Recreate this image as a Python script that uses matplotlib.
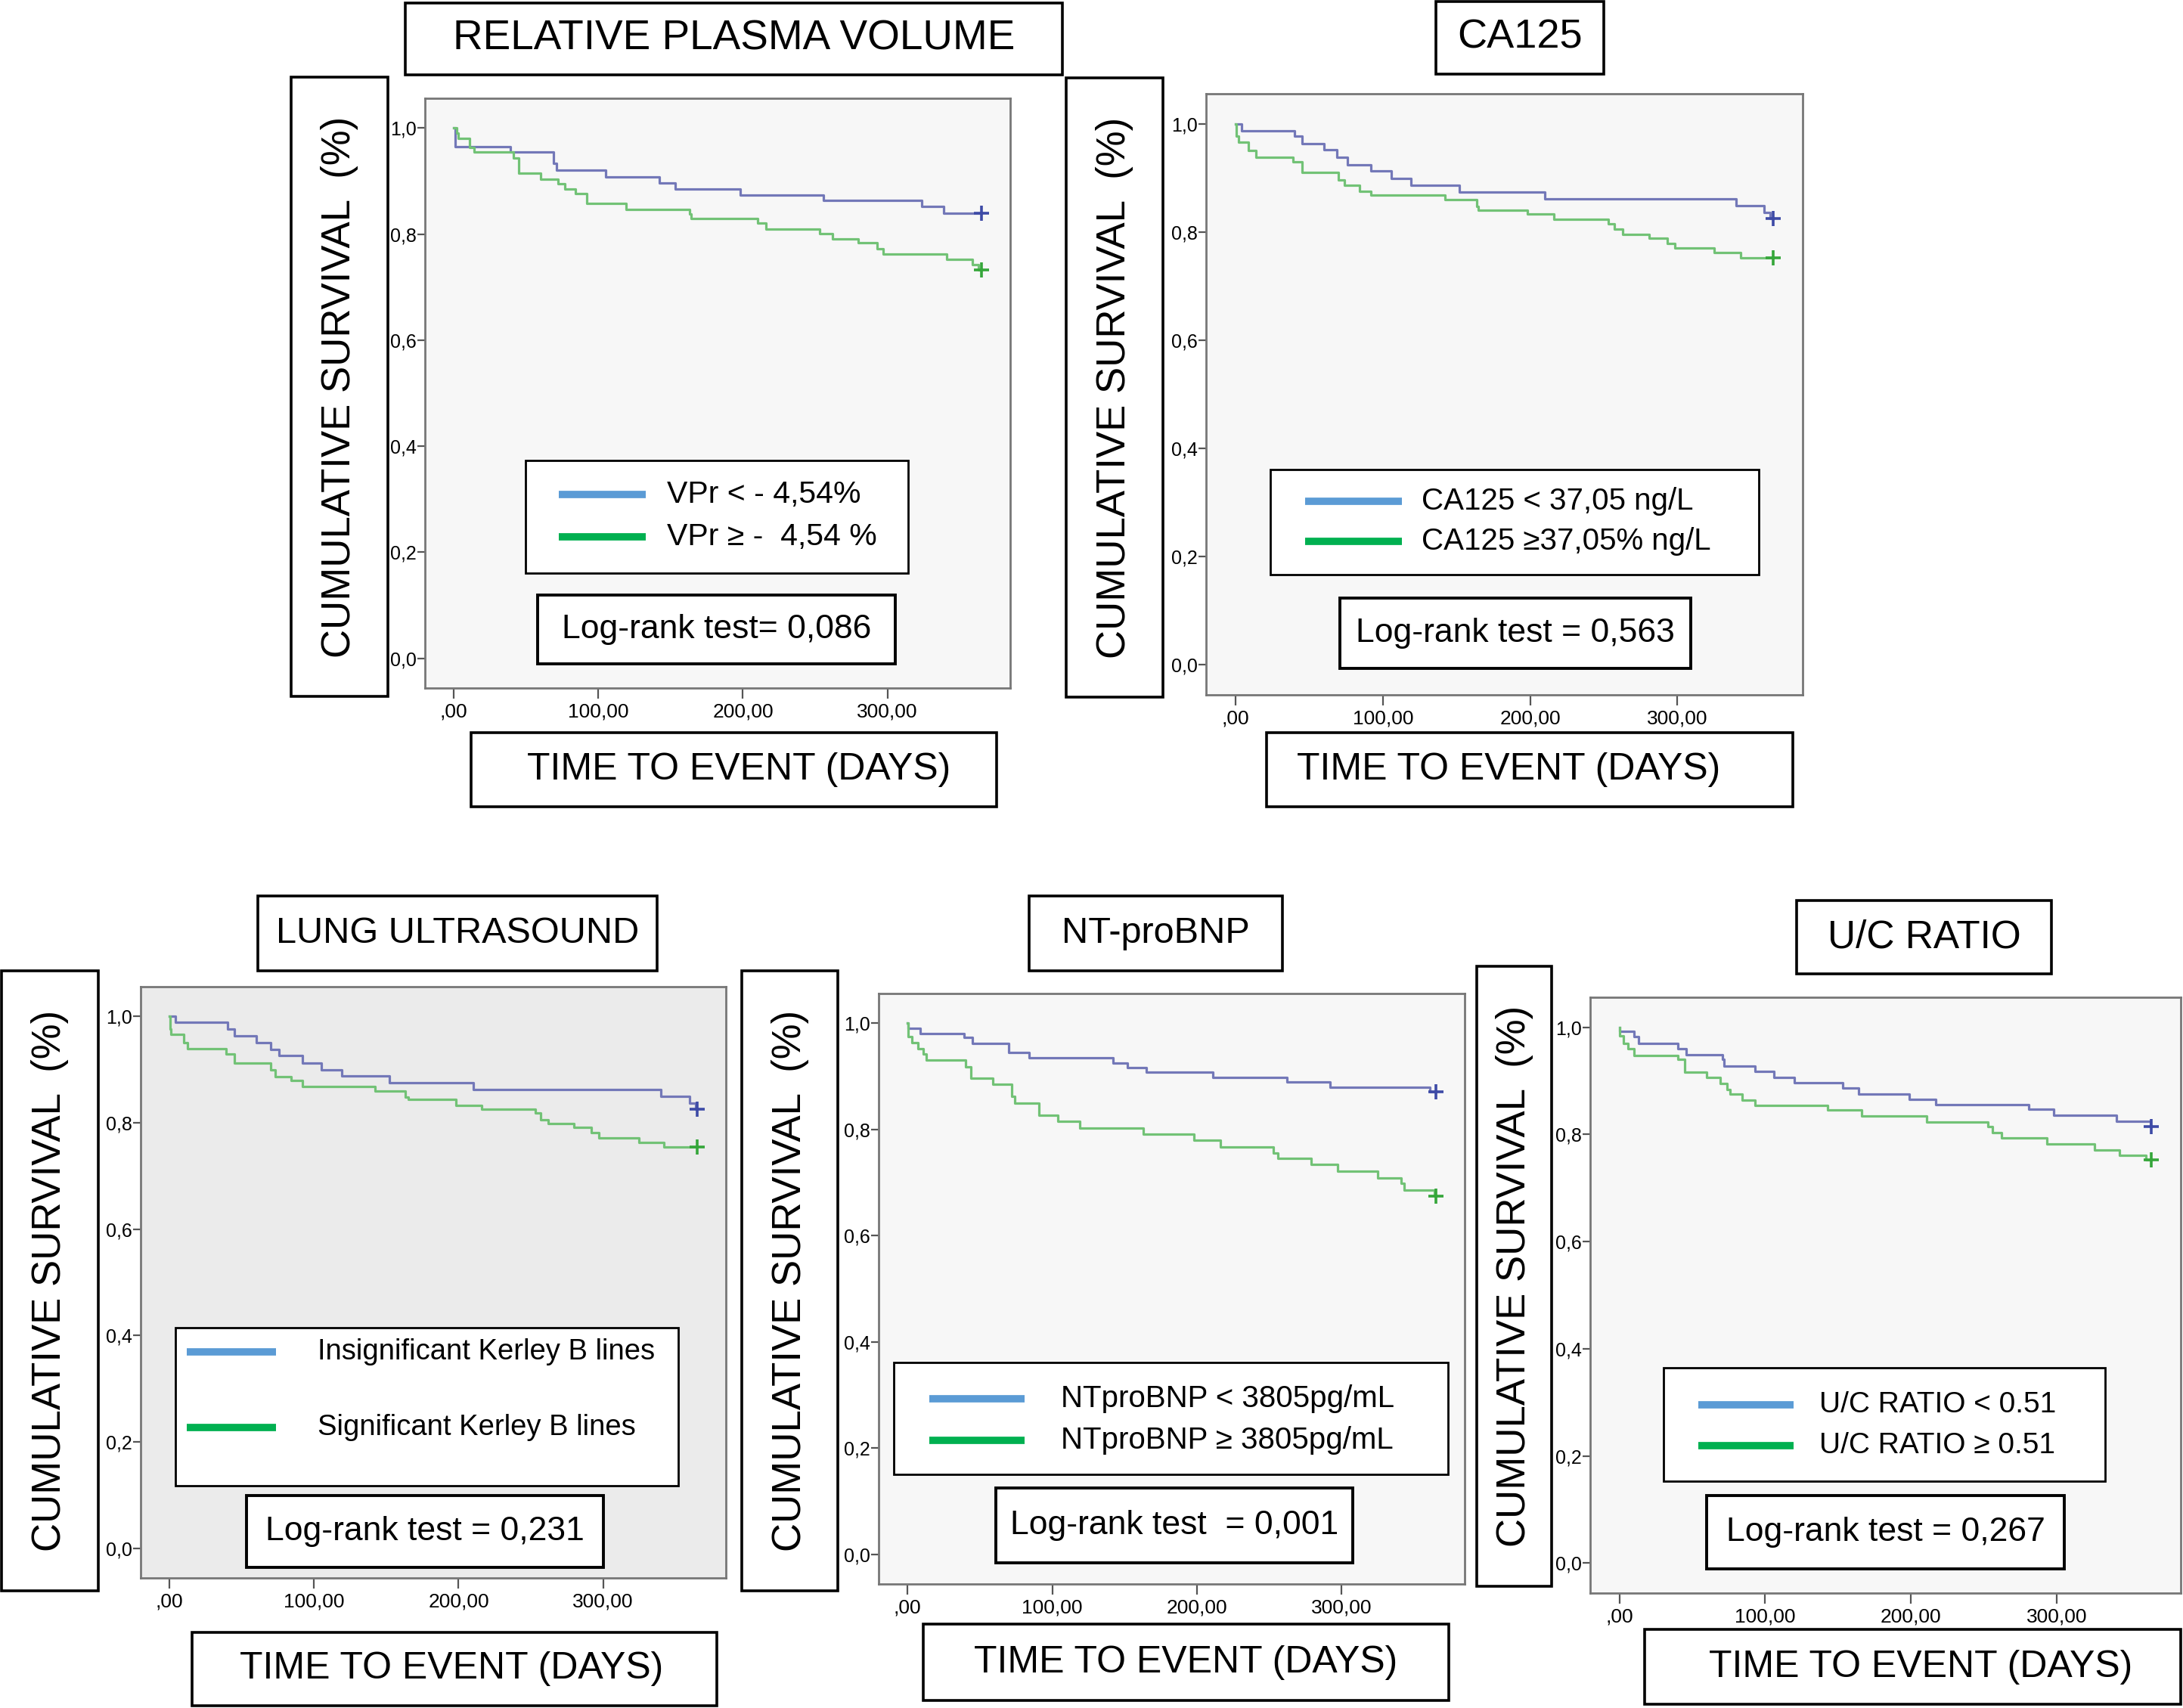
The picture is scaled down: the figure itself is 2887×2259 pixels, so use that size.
import matplotlib
matplotlib.use("Agg")
import matplotlib.pyplot as plt
from matplotlib.patches import Rectangle
from matplotlib.lines import Line2D

plt.rcParams['font.family'] = ['Liberation Sans', 'DejaVu Sans']

# ---- data (event day, survival after event) ----
END_DAY = 365

rpv_lo_t = [1, 39, 69, 71, 105, 142, 153, 198, 256, 324, 339]
rpv_lo_s = [0.965, 0.955, 0.933, 0.920, 0.908, 0.897, 0.885, 0.874, 0.863, 0.852, 0.840]
rpv_hi_t = [2, 3, 11, 14, 41, 45, 60, 72, 77, 84, 92, 119, 163, 164, 210, 216, 253, 262,
            280, 293, 297, 341, 359, 363]
rpv_hi_s = [0.990, 0.981, 0.964, 0.955, 0.944, 0.915, 0.904, 0.895, 0.885, 0.877, 0.858,
            0.847, 0.838, 0.829, 0.821, 0.810, 0.801, 0.791, 0.783, 0.773, 0.762, 0.753,
            0.742, 0.732]

ca_lo_t = [4, 40, 45, 60, 69, 76, 92, 106, 119, 152, 210, 340, 359, 363]
ca_lo_s = [0.988, 0.977, 0.964, 0.952, 0.939, 0.925, 0.913, 0.899, 0.887, 0.874, 0.861,
           0.849, 0.836, 0.825]
ca_hi_t = [0.5, 2, 9, 14, 39, 45, 70, 74, 84, 92, 142, 164, 165, 198, 216, 253, 257, 263,
           281, 293, 298, 325, 343]
ca_hi_s = [0.977, 0.966, 0.951, 0.938, 0.930, 0.911, 0.897, 0.887, 0.876, 0.869, 0.860,
           0.847, 0.841, 0.833, 0.824, 0.815, 0.806, 0.796, 0.789, 0.779, 0.770, 0.762,
           0.753]

lus_lo_t = [4, 40, 45, 60, 70, 76, 92, 105, 119, 152, 210, 340, 360, 364]
lus_lo_s = [0.989, 0.976, 0.964, 0.951, 0.938, 0.926, 0.913, 0.900, 0.888, 0.876, 0.863,
            0.850, 0.837, 0.825]
lus_hi_t = [0.3, 1, 10, 12.5, 39, 45, 70, 73, 84, 92, 142, 163, 165, 198, 216, 253, 257,
            262, 280, 292, 297, 325, 342]
lus_hi_s = [0.977, 0.966, 0.951, 0.939, 0.930, 0.913, 0.899, 0.887, 0.879, 0.869, 0.860,
            0.849, 0.844, 0.833, 0.825, 0.818, 0.806, 0.799, 0.791, 0.782, 0.772, 0.763,
            0.754]

nt_lo_t = [0.5, 9, 39, 45, 70, 84, 142, 152, 165, 211, 262, 292, 361]
nt_lo_s = [0.991, 0.981, 0.973, 0.962, 0.945, 0.935, 0.925, 0.917, 0.908, 0.898, 0.889,
           0.879, 0.871]
nt_hi_t = [0.5, 3, 7, 11, 13, 40, 44, 59, 72, 74, 91, 104, 119, 163, 198, 216, 253, 256,
           279, 297, 325, 341, 343, 364]
nt_hi_s = [0.975, 0.963, 0.952, 0.942, 0.930, 0.918, 0.897, 0.885, 0.863, 0.850, 0.827,
           0.815, 0.802, 0.791, 0.780, 0.767, 0.756, 0.745, 0.734, 0.721, 0.709, 0.698,
           0.686, 0.675]

uc_lo_t = [0.4, 10, 13, 40, 46, 71, 72, 93, 106, 120, 153, 164, 199, 217, 281, 298, 341, 364]
uc_lo_s = [0.992, 0.982, 0.970, 0.960, 0.949, 0.940, 0.928, 0.918, 0.907, 0.897, 0.887,
           0.876, 0.866, 0.856, 0.847, 0.836, 0.824, 0.815]
uc_hi_t = [0.4, 3, 6, 10, 40, 45, 60, 69, 74, 76, 84, 93, 143, 166, 211, 253, 256, 262, 293,
           326, 343, 361]
uc_hi_s = [0.984, 0.970, 0.960, 0.948, 0.940, 0.916, 0.906, 0.895, 0.884, 0.875, 0.864,
           0.854, 0.846, 0.834, 0.823, 0.814, 0.803, 0.793, 0.782, 0.771, 0.761, 0.752]

x_ticks = [0, 100, 200, 300]
x_tick_labels = [',00', '100,00', '200,00', '300,00']
y_ticks = [0.0, 0.2, 0.4, 0.6, 0.8, 1.0]
y_tick_labels = ['0,0', '0,2', '0,4', '0,6', '0,8', '1,0']

titles = ['RELATIVE PLASMA VOLUME', 'CA125', 'LUNG ULTRASOUND', 'NT-proBNP', 'U/C RATIO']
legend_labels = [
    ['VPr < - 4,54%', 'VPr \u2265 -  4,54 %'],
    ['CA125 < 37,05 ng/L', 'CA125 \u226537,05% ng/L'],
    ['Insignificant Kerley B lines', 'Significant Kerley B lines'],
    ['NTproBNP < 3805pg/mL', 'NTproBNP \u2265 3805pg/mL'],
    ['U/C RATIO < 0.51', 'U/C RATIO \u2265 0.51'],
]
logrank = ['Log-rank test= 0,086', 'Log-rank test = 0,563', 'Log-rank test = 0,231',
           'Log-rank test  = 0,001', 'Log-rank test = 0,267']

# ---- colours ----
BLUE = '#7378b8'
GREEN = '#72c276'
BLUE_M = '#3d4aa6'
GREEN_M = '#35a63a'
LEG_BLUE = '#5b9bd5'
LEG_GREEN = '#00b050'

W, H = 2887, 2259
fig = plt.figure(figsize=(W / 100, H / 100), dpi=100)


def to_fig(x0, y0, x1, y1):
    return [x0 / W, 1 - y1 / H, (x1 - x0) / W, (y1 - y0) / H]


def box(b, lw=2.6):
    x0, y0, x1, y1 = b
    fig.add_artist(Rectangle((x0 / W, 1 - y1 / H), (x1 - x0) / W, (y1 - y0) / H,
                             transform=fig.transFigure, facecolor='white',
                             edgecolor='black', lw=lw, zorder=10))


def boxed_text(b, text, size, rotation=0, cx=None, lw=2.6):
    box(b, lw)
    x0, y0, x1, y1 = b
    if cx is None:
        cx = (x0 + x1) / 2
    fig.text(cx / W, 1 - (y0 + y1) / 2 / H, text, ha='center', va='center',
             fontsize=size, rotation=rotation, zorder=11)


# layout in reference pixels: axes, title box, y-label box, x-label box, legend, log-rank
panels = [
    dict(ax=(562, 130, 1336, 910), title=(536, 4, 1405, 99), tsize=39.5,
         ylab=(385, 102, 513, 921), xlab=(623, 969, 1318, 1067), xcx=977,
         leg=(695, 609, 1201, 758), sw=(739, 854), rows=(654, 710), tx=882, lsize=29.5,
         lr=(711, 787, 1184, 878), bg='#f7f7f7',
         data=(rpv_lo_t, rpv_lo_s, rpv_hi_t, rpv_hi_s)),
    dict(ax=(1595, 124, 2384, 919), title=(1899, 2, 2121, 98), tsize=39,
         ylab=(1410, 103, 1538, 922), xlab=(1675, 969, 2371, 1067), xcx=1995,
         leg=(1680, 621, 2326, 760), sw=(1726, 1854), rows=(663, 716), tx=1880, lsize=29,
         lr=(1772, 791, 2236, 884), bg='#f7f7f7',
         data=(ca_lo_t, ca_lo_s, ca_hi_t, ca_hi_s)),
    dict(ax=(186, 1305, 960, 2087), title=(341, 1185, 869, 1284), tsize=35,
         ylab=(2, 1284, 130, 2104), xlab=(254, 2159, 948, 2256), xcx=597,
         leg=(232, 1756, 897, 1965), sw=(247, 365), rows=(1788, 1888), tx=420, lsize=27.5,
         lr=(326, 1978, 798, 2073), bg='#ebebeb',
         data=(lus_lo_t, lus_lo_s, lus_hi_t, lus_hi_s)),
    dict(ax=(1162, 1314, 1937, 2095), title=(1361, 1185, 1696, 1284), tsize=35,
         ylab=(981, 1284, 1108, 2104), xlab=(1221, 2148, 1916, 2249), xcx=None,
         leg=(1182, 1802, 1915, 1950), sw=(1229, 1355), rows=(1850, 1905), tx=1403, lsize=29,
         lr=(1317, 1968, 1789, 2067), bg='#f7f7f7',
         data=(nt_lo_t, nt_lo_s, nt_hi_t, nt_hi_s)),
    dict(ax=(2103, 1319, 2884, 2107), title=(2376, 1191, 2713, 1288), tsize=37,
         ylab=(1953, 1278, 2052, 2098), xlab=(2175, 2155, 2884, 2254), xcx=2540,
         leg=(2200, 1809, 2784, 1959), sw=(2246, 2372), rows=(1858, 1912), tx=2406, lsize=28,
         lr=(2257, 1978, 2730, 2075), bg='#f7f7f7',
         data=(uc_lo_t, uc_lo_s, uc_hi_t, uc_hi_s)),
]

for i, p in enumerate(panels):
    ax = fig.add_axes(to_fig(*p['ax']))
    ax.set_facecolor(p['bg'])
    t_lo, s_lo, t_hi, s_hi = p['data']
    for t, s, c, mc in ((t_lo, s_lo, BLUE, BLUE_M), (t_hi, s_hi, GREEN, GREEN_M)):
        xs = [0] + list(t) + [END_DAY]
        ys = [1.0] + list(s) + [s[-1]]
        ax.step(xs, ys, where='post', color=c, lw=2.3)
        ax.plot([END_DAY], [s[-1]], marker='+', ms=14, mew=2.6, color=mc, ls='none')
    ax.set_xlim(-20, 385)
    ax.set_ylim(-0.056, 1.056)
    ax.set_xticks(x_ticks)
    ax.set_xticklabels(x_tick_labels)
    ax.set_yticks(y_ticks)
    ax.set_yticklabels(y_tick_labels)
    ax.tick_params(axis='x', length=10, width=1.6, pad=4, labelsize=19, color='#555555')
    ax.tick_params(axis='y', length=7, width=1.6, pad=1, labelsize=18, color='#555555')
    for sp in ax.spines.values():
        sp.set_color('#777777')
        sp.set_linewidth(2.0)

    # text boxes around the plot
    boxed_text(p['title'], titles[i], p['tsize'])
    boxed_text(p['ylab'], 'CUMULATIVE SURVIVAL  (%)', 38, rotation=90)
    boxed_text(p['xlab'], 'TIME TO EVENT (DAYS)', 36, cx=p['xcx'])
    boxed_text(p['lr'], logrank[i], 32, lw=2.8)

    # legend box
    box(p['leg'], lw=2.0)
    for r, col, lab in zip(p['rows'], (LEG_BLUE, LEG_GREEN), legend_labels[i]):
        fig.add_artist(Line2D([p['sw'][0] / W, p['sw'][1] / W], [1 - r / H, 1 - r / H],
                              transform=fig.transFigure, color=col, lw=7, zorder=11,
                              solid_capstyle='butt'))
        fig.text(p['tx'] / W, 1 - r / H, lab, ha='left', va='center',
                 fontsize=p['lsize'], zorder=11)

fig.savefig('out.png', dpi=100, facecolor='white')
